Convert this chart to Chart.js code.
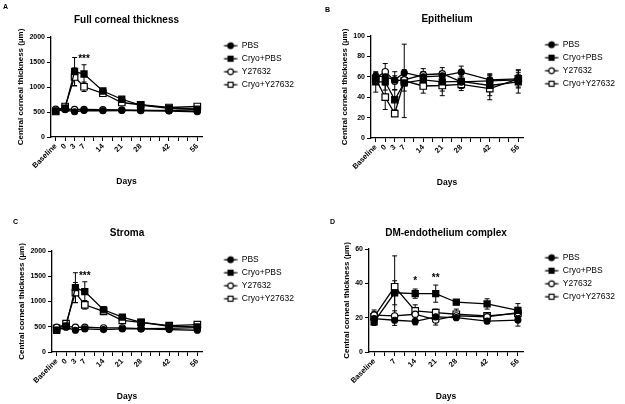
<!DOCTYPE html>
<html>
<head>
<meta charset="utf-8">
<script src="https://cdn.jsdelivr.net/npm/chart.js@4.4.0/dist/chart.umd.min.js"></script>
<style>
  body { margin: 0; background: #fff; }
  #wrap { position: relative; width: 625px; height: 404px; font-family: Arial, "Liberation Sans", sans-serif; }
  #wrap canvas { position: absolute; }
  .tag { position: absolute; font-weight: bold; font-size: 7px; line-height: 7px; color: #000; }
</style>
</head>
<body>
<div id="wrap">
  <canvas id="cA" width="312" height="200" style="left:0;top:0"></canvas>
  <canvas id="cB" width="313" height="200" style="left:312px;top:0"></canvas>
  <canvas id="cC" width="312" height="204" style="left:0;top:200px"></canvas>
  <canvas id="cD" width="313" height="204" style="left:312px;top:200px"></canvas>
  <div class="tag" style="left:3px;top:3px">A</div>
  <div class="tag" style="left:325px;top:6px">B</div>
  <div class="tag" style="left:13px;top:218px">C</div>
  <div class="tag" style="left:330px;top:218px">D</div>
</div>
<script>
// time points
const daysABC = ['Baseline', '0', '3', '7', '14', '21', '28', '42', '56'];
const daysD = ['Baseline', '7', '14', '21', '28', '42', '56'];
// axis slots (blank ones only carry a minor tick)
const axisABC = ['Baseline', '0', '3', '7', '', '14', '', '21', '', '28', '', '', '42', '', '', '56'];
const axisD = ['Baseline', '', '7', '', '14', '', '21', '', '28', '', '', '42', '', '', '56'];

const seriesNames = ['PBS', 'Cryo+PBS', 'Y27632', 'Cryo+Y27632'];

// A - full corneal thickness
const fullPBS = [525, 545, 505, 530, 525, 530, 530, 520, 505];
const fullPBSsd = [30, 25, 25, 20, 20, 20, 15, 20, 20];
const fullCryoPBS = [520, 580, 1310, 1260, 920, 755, 640, 575, 560];
const fullCryoPBSsd = [30, 40, 280, 185, 50, 45, 30, 25, 25];
const fullY = [555, 560, 550, 550, 545, 540, 530, 530, 545];
const fullYsd = [25, 20, 20, 20, 20, 20, 20, 20, 20];
const fullCryoY = [510, 610, 1200, 1005, 875, 690, 645, 590, 610];
const fullCryoYsd = [30, 40, 180, 95, 60, 40, 30, 30, 30];

// B - epithelium
const epiPBS = [61, 60, 57, 64, 60, 61, 64.5, 57, 58];
const epiPBSsd = [3, 3, 4, 3, 5, 4, 6, 5, 4];
const epiCryoPBS = [55, 55, 37.5, 54, 57, 55, 55.5, 51.5, 55];
const epiCryoPBSsd = [10, 8, 10, 8, 8, 9, 7, 10, 11];
const epiY = [59, 65, 56, 57, 62, 63, 55, 56, 57];
const epiYsd = [3, 8, 9, 6, 6, 6, 5, 7, 7];
const epiCryoY = [58, 40, 24, 56, 51, 51.5, 52.5, 48.5, 58];
const epiCryoYsd = [5, 12, 2, 36, 7, 10, 6, 11, 9];

// C - stroma
const strPBS = [431, 490, 431, 458, 444, 458, 458, 444, 431];
const strPBSsd = [25, 20, 20, 20, 20, 20, 15, 20, 20];
const strCryoPBS = [431, 510, 1275, 1196, 836, 693, 588, 510, 497];
const strCryoPBSsd = [30, 40, 295, 195, 60, 40, 30, 25, 25];
const strY = [490, 510, 490, 490, 477, 477, 464, 470, 484];
const strYsd = [25, 20, 20, 20, 20, 20, 20, 20, 20];
const strCryoY = [470, 562, 1176, 935, 804, 627, 588, 523, 542];
const strCryoYsd = [30, 40, 200, 85, 60, 40, 30, 30, 30];

// D - DM-endothelium complex
const dmPBS = [19.5, 18.5, 17.8, 20.5, 20, 18, 18.6];
const dmPBSsd = [2, 3, 2, 2, 1, 1.5, 3.5];
const dmCryoPBS = [17.5, 34.5, 34, 34, 29, 28, 24.2];
const dmCryoPBSsd = [2, 7, 2.7, 5, 1.2, 3, 4];
const dmY = [21.5, 21, 22, 18.7, 21, 20.5, 23];
const dmYsd = [2, 3, 3, 3, 2, 2, 3];
const dmCryoY = [20.5, 38, 24, 23, 22, 21, 22.5];
const dmCryoYsd = [4, 18, 3.5, 2, 3, 2, 3];

// marker styles per series
const markerShape = ['circle', 'rect', 'circle', 'rect'];
const markerFill = ['#000', '#000', '#fff', '#fff'];
const markerSize = [3, 4.3, 3.2, 4.6];

Chart.defaults.font.family = 'Arial, "Liberation Sans", sans-serif';
Chart.defaults.color = '#000';

function expand(days, axis, vals) {
  const out = axis.map(() => null);
  days.forEach((d, i) => { out[axis.indexOf(d)] = vals[i]; });
  return out;
}

// little line + marker image for the legend
function legendMark(i) {
  const c = document.createElement('canvas');
  c.width = 31; c.height = 10;
  const g = c.getContext('2d');
  g.strokeStyle = '#000';
  g.lineWidth = 1.3;
  g.beginPath(); g.moveTo(17.5, 5); g.lineTo(30.5, 5); g.stroke();
  g.fillStyle = markerFill[i];
  g.lineWidth = 1.2;
  if (markerShape[i] === 'circle') {
    g.beginPath(); g.arc(24, 5, 2.8, 0, Math.PI * 2); g.fill(); g.stroke();
  } else {
    g.fillRect(21.5, 2.5, 5, 5); g.strokeRect(21.5, 2.5, 5, 5);
  }
  return c;
}
const legendMarks = seriesNames.map((n, i) => legendMark(i));

const errorBars = {
  id: 'errorBars',
  beforeDatasetsDraw(chart) {
    const ctx = chart.ctx, ys = chart.scales.y;
    chart.data.datasets.forEach((ds, i) => {
      const meta = chart.getDatasetMeta(i);
      ds.data.forEach((v, j) => {
        if (v == null || ds.sd[j] == null) return;
        const x = meta.data[j].x;
        const top = ys.getPixelForValue(v + ds.sd[j]);
        const bot = ys.getPixelForValue(v - ds.sd[j]);
        ctx.save();
        ctx.strokeStyle = '#000';
        ctx.lineWidth = 1;
        ctx.beginPath();
        ctx.moveTo(x, top); ctx.lineTo(x, bot);
        ctx.moveTo(x - 2.5, top); ctx.lineTo(x + 2.5, top);
        ctx.moveTo(x - 2.5, bot); ctx.lineTo(x + 2.5, bot);
        ctx.stroke();
        ctx.restore();
      });
    });
  }
};

const sigMarks = {
  id: 'sig',
  afterDatasetsDraw(chart, args, opts) {
    if (!opts.text) return;
    const ctx = chart.ctx;
    ctx.save();
    ctx.font = 'bold 10px Arial, "Liberation Sans", sans-serif';
    ctx.fillStyle = '#000';
    ctx.textAlign = 'center';
    ctx.textBaseline = 'middle';
    opts.text.forEach((t, i) => {
      const x = chart.scales.x.getPixelForValue(chart.data.labels.indexOf(opts.days[i]));
      const y = chart.scales.y.getPixelForValue(opts.values[i]);
      ctx.fillText(t, x, y);
    });
    ctx.restore();
  }
};

function makeChart(id, p) {
  return new Chart(document.getElementById(id), {
    type: 'line',
    data: {
      labels: p.axis,
      datasets: seriesNames.map((name, i) => ({
        label: name,
        data: expand(p.days, p.axis, p.means[i]),
        sd: expand(p.days, p.axis, p.sds[i]),
        borderColor: '#000',
        borderWidth: 1.3,
        pointStyle: markerShape[i],
        pointRadius: markerSize[i],
        pointBackgroundColor: markerFill[i],
        pointBorderColor: '#000',
        pointBorderWidth: 1.2,
        spanGaps: true,
        tension: 0
      }))
    },
    plugins: [errorBars, sigMarks],
    options: {
      responsive: false,
      animation: false,
      layout: { padding: p.pad },
      plugins: {
        title: {
          display: true, text: p.title, fullSize: false, color: '#000',
          font: { size: 10, weight: 'bold' },
          padding: { top: 0, bottom: p.titleGap }
        },
        legend: {
          position: 'right', align: 'start', fullSize: false, maxWidth: 130,
          labels: {
            usePointStyle: true, pointStyleWidth: 31, padding: 4.5,
            color: '#000', font: { size: 8.5 },
            generateLabels(chart) {
              const items = Chart.defaults.plugins.legend.labels.generateLabels(chart);
              items.forEach((it, i) => { it.pointStyle = legendMarks[i]; });
              return items;
            }
          }
        },
        tooltip: { enabled: false },
        sig: { text: p.sigText, days: p.sigDays, values: p.sigValues }
      },
      scales: {
        x: {
          type: 'category', offset: true,
          grid: { offset: false, drawOnChartArea: false, tickLength: 4, color: '#000' },
          border: { color: '#000', width: 1.3 },
          ticks: { autoSkip: false, minRotation: 45, maxRotation: 45, padding: 1, color: '#000', font: { size: 7.5, weight: 'bold' } },
          title: { display: true, text: 'Days', color: '#000', font: { size: 8.5, weight: 'bold' }, padding: { top: 5.7, bottom: 0 } }
        },
        y: {
          min: 0, max: p.yMax,
          grid: { drawOnChartArea: false, tickLength: 4, color: '#000' },
          border: { color: '#000', width: 1.3 },
          ticks: { stepSize: p.yStep, padding: 2, color: '#000', font: { size: 7, weight: 'bold' }, callback: v => String(v) },
          title: { display: true, text: 'Central corneal thickness (µm)', color: '#000', font: { size: 8, weight: 'bold' }, padding: { top: 1.5, bottom: 1.5 } }
        }
      }
    }
  });
}

makeChart('cA', {
  title: 'Full corneal thickness', axis: axisABC, days: daysABC,
  means: [fullPBS, fullCryoPBS, fullY, fullCryoY],
  sds: [fullPBSsd, fullCryoPBSsd, fullYsd, fullCryoYsd],
  yMax: 2000, yStep: 500,
  sigText: ['***'], sigDays: ['7'], sigValues: [1560],
  pad: { left: 14.8, right: 8, top: 14, bottom: 12.9 }, titleGap: 11
});
makeChart('cB', {
  title: 'Epithelium', axis: axisABC, days: daysABC,
  means: [epiPBS, epiCryoPBS, epiY, epiCryoY],
  sds: [epiPBSsd, epiCryoPBSsd, epiYsd, epiCryoYsd],
  yMax: 100, yStep: 20,
  sigText: [], sigDays: [], sigValues: [],
  pad: { left: 26.7, right: 0, top: 13, bottom: 11.9 }, titleGap: 11
});
makeChart('cC', {
  title: 'Stroma', axis: axisABC, days: daysABC,
  means: [strPBS, strCryoPBS, strY, strCryoY],
  sds: [strPBSsd, strCryoPBSsd, strYsd, strCryoYsd],
  yMax: 2000, yStep: 500,
  sigText: ['***'], sigDays: ['7'], sigValues: [1510],
  pad: { left: 15.8, right: 8, top: 27, bottom: 1.9 }, titleGap: 12
});
makeChart('cD', {
  title: 'DM-endothelium complex', axis: axisD, days: daysD,
  means: [dmPBS, dmCryoPBS, dmY, dmCryoY],
  sds: [dmPBSsd, dmCryoPBSsd, dmYsd, dmCryoYsd],
  yMax: 60, yStep: 20,
  sigText: ['*', '**'], sigDays: ['14', '21'], sigValues: [41, 42.7],
  pad: { left: 28.6, right: 0, top: 27, bottom: 1.9 }, titleGap: 10
});
</script>
</body>
</html>
